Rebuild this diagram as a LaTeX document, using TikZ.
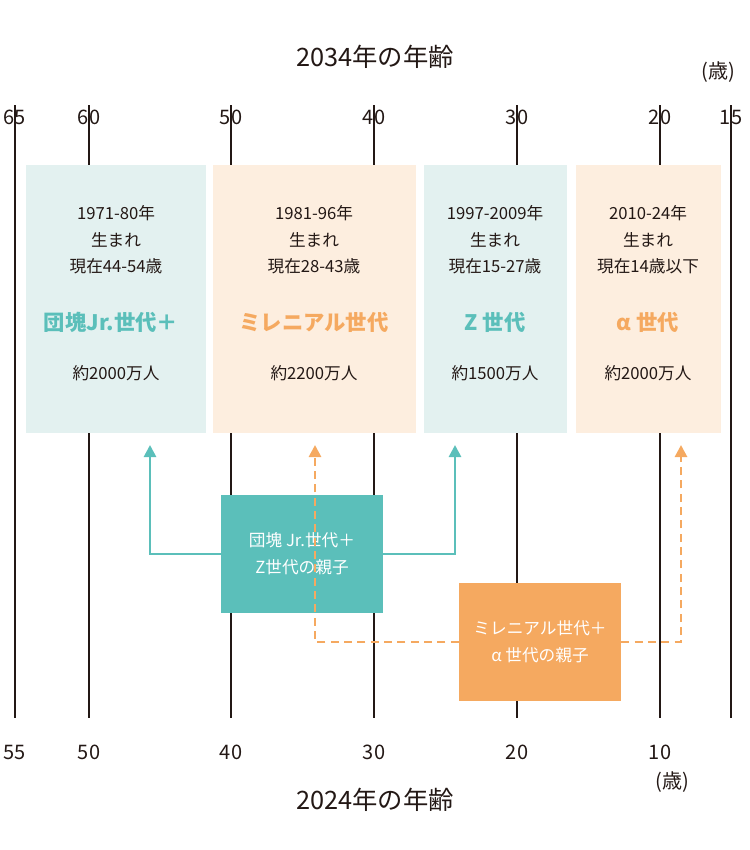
\documentclass[tikz,border=0pt]{standalone}
\usepackage{fontspec}
\setmainfont{Noto Sans CJK JP}
\usetikzlibrary{arrows.meta}
\definecolor{teal}{HTML}{5BBFBA}
\definecolor{orng}{HTML}{F5A960}
\definecolor{lteal}{HTML}{E3F1F0}
\definecolor{lpeach}{HTML}{FDEEDF}
\definecolor{txt}{HTML}{231815}
\begin{document}
\begin{tikzpicture}[x=0.75pt,y=-0.75pt,
  vline/.style={txt,line width=1.1pt},
  ax/.style={font=\fontsize{15}{15}\selectfont,text=txt},
  body/.style={font=\fontsize{12.5}{20}\selectfont,text=txt,align=center},
  gt/.style={font=\bfseries\fontsize{16}{16}\selectfont},
  pbox/.style={text=white,align=center,font=\fontsize{12.5}{20}\selectfont,minimum width=121.5pt,minimum height=88.5pt},
  tarr/.style={teal,line width=2pt,-{Triangle[length=9pt,width=9pt]}},
  oarr/.style={orng,line width=2pt,dashed,dash pattern=on 6pt off 4pt,-{Triangle[length=9pt,width=9pt]}}]
\useasboundingbox (0,0) rectangle (750,850);
\foreach \x/\t/\b in {15/65/55,89/60/50,231/50/40,374/40/30,517/30/20,660/20/10,731/15/}{
  \draw[vline] (\x,105) -- (\x,718);
  \node[ax] at (\x,117) {\t};
  \node[ax] at (\x,752) {\b};
}
\node[ax] at (718,72) {(歳)};
\node[ax] at (672,782) {(歳)};
\node[font=\fontsize{19}{19}\selectfont,text=txt] (t1) at (375,57) {2034年の年齢};
\node[font=\fontsize{19}{19}\selectfont,text=txt] (t2) at (375,800) {2024年の年齢};
\fill[lteal] (26,165) rectangle (206,433);
\fill[lpeach] (213,165) rectangle (416,433);
\fill[lteal] (424,165) rectangle (567,433);
\fill[lpeach] (576,165) rectangle (721,433);
\node[body] (g1) at (116,240) {1971-80年\\生まれ\\現在44-54歳};
\node[body] (g2) at (314,240) {1981-96年\\生まれ\\現在28-43歳};
\node[body] (g3) at (495,240) {1997-2009年\\生まれ\\現在15-27歳};
\node[body] (g4) at (648,240) {2010-24年\\生まれ\\現在14歳以下};
\node[gt,text=teal] at (111,322) {団塊Jr.世代＋};
\node[gt,text=orng] at (314,322) {ミレニアル世代};
\node[gt,text=teal] at (495,322) {Z 世代};
\node[gt,text=orng] at (648,322) {\textit{α} 世代};
\node[body] at (116,373) {約2000万人};
\node[body] at (314,373) {約2200万人};
\node[body] at (495,373) {約1500万人};
\node[body] at (648,373) {約2000万人};
\node[pbox,fill=teal] (pa) at (302,554) {団塊 Jr.世代＋\\Z世代の親子};
\node[pbox,fill=orng] (pb) at (540,642) {ミレニアル世代＋\\\textit{α} 世代の親子};
\coordinate (a1) at (150,445);
\coordinate (a2) at (455,445);
\coordinate (b1) at (315,445);
\coordinate (b2) at (681,445);
\draw[tarr] (pa.west) -| (a1);
\draw[tarr] (pa.east) -| (a2);
\draw[oarr] (pb.west) -| (b1);
\draw[oarr] (pb.east) -| (b2);
\end{tikzpicture}
\end{document}
